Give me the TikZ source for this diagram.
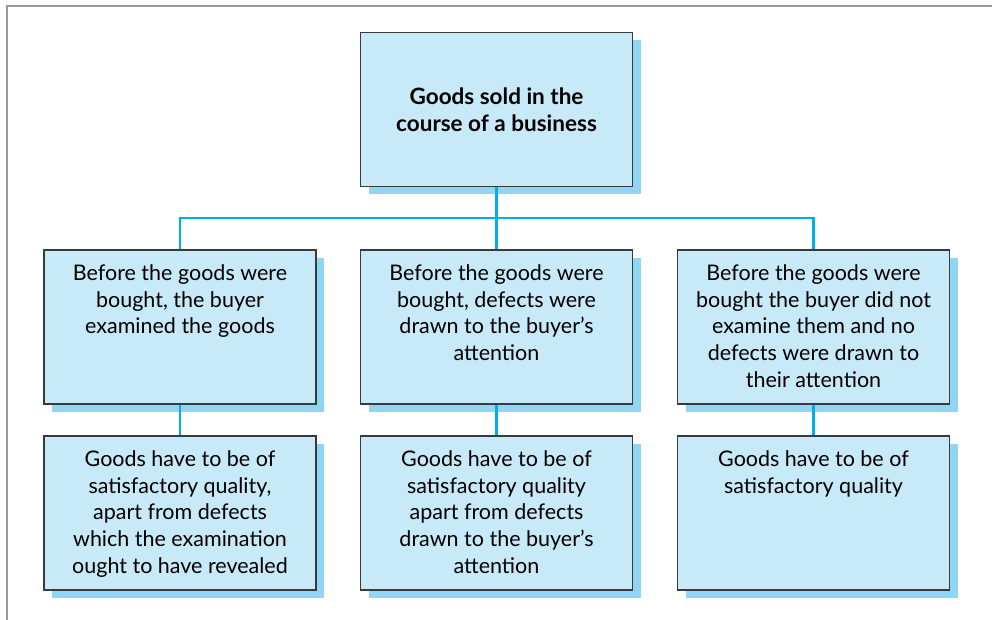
\documentclass[tikz,border=0pt]{standalone}
\usepackage{fontspec}
\setmainfont{Lato}
\usetikzlibrary{shadows}
\definecolor{boxfill}{HTML}{C8E9F8}
\definecolor{shadowc}{HTML}{8FD6F4}
\definecolor{linec}{HTML}{00AEEF}
\definecolor{edgec}{HTML}{3A3A3A}
\definecolor{framec}{HTML}{9A9A9A}
\newcommand\tbox[1]{\parbox[c][154pt][t]{268pt}{\centering\fontsize{21.5}{26.8}\selectfont\vspace*{14.5pt}#1\par}}
\begin{document}
\begin{tikzpicture}[x=1pt,y=-1pt,
  box/.style={draw=edgec,line width=1.3pt,fill=boxfill,minimum width=272pt,minimum height=154pt,inner sep=0pt,
    drop shadow={shadow xshift=8pt,shadow yshift=-8pt,fill=shadowc,opacity=1}},
  conn/.style={draw=linec,line width=2.4pt}]
\useasboundingbox (0,0) rectangle (992,620);
\draw[framec,line width=2pt] (6.5,620) -- (6.5,6.5) -- (992,6.5);
\node[box,align=center,font=\bfseries\fontsize{22.5}{27}\selectfont] (top) at (496.5,109.5) {Goods sold in the\\course of a business};
\node[box] (m1) at (180,327) {\tbox{Before the goods were\\bought, the buyer\\examined the goods}};
\node[box] (m2) at (496.5,327) {\tbox{Before the goods were\\bought, defects were\\drawn to the buyer’s\\attention}};
\node[box] (m3) at (813.5,327) {\tbox{Before the goods were\\bought the buyer did not\\examine them and no\\defects were drawn to\\their attention}};
\node[box] (b1) at (180,513) {\tbox{Goods have to be of\\satisfactory quality,\\apart from defects\\which the examination\\ought to have revealed}};
\node[box] (b2) at (496.5,513) {\tbox{Goods have to be of\\satisfactory quality\\apart from defects\\drawn to the buyer’s\\attention}};
\node[box] (b3) at (813.5,513) {\tbox{Goods have to be of\\satisfactory quality}};
\coordinate (j) at (496.5,218);
\draw[conn] (top.south) -- (j);
\draw[conn] (m1.north) |- (j) -| (m3.north);
\draw[conn] (j) -- (m2.north);
\draw[conn] (m1.south) -- (b1.north);
\draw[conn] (m2.south) -- (b2.north);
\draw[conn] (m3.south) -- (b3.north);
\end{tikzpicture}
\end{document}
